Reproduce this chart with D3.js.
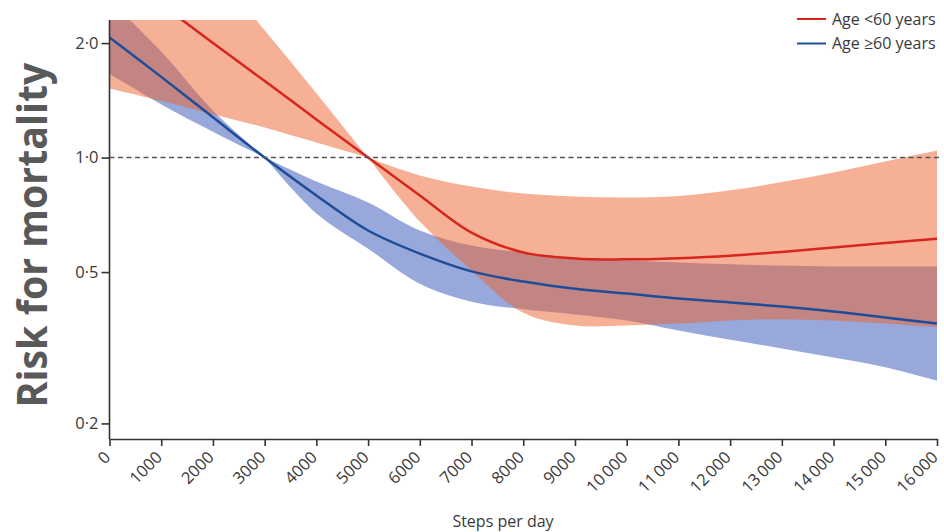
<!DOCTYPE html>
<html>
<head>
<meta charset="utf-8">
<script src="https://cdn.jsdelivr.net/npm/d3@7"></script>
<style>
  html, body { margin: 0; padding: 0; background: #fff; }
  svg { display: block; font-family: "Open Sans", "DejaVu Sans", sans-serif; }
</style>
</head>
<body>
<svg id="chart" width="944" height="532"></svg>
<script>
// Steps per day at which the curves are sampled
const steps = [0, 1000, 2000, 3000, 4000, 5000, 6000, 7000, 8000, 9000, 10000, 11000, 12000, 13000, 14000, 15000, 16000];

// Age <60 years: hazard ratio and 95% CI (reference point 5000 steps)
const youngHR    = [3.20, 2.53, 2.00, 1.59, 1.26, 1.00, 0.795, 0.635, 0.563, 0.543, 0.540, 0.544, 0.552, 0.565, 0.580, 0.596, 0.612];
const youngUpper = [6.86, 4.67, 3.18, 2.16, 1.477, 1.00, 0.897, 0.839, 0.804, 0.790, 0.785, 0.792, 0.820, 0.862, 0.913, 0.976, 1.043];
const youngLower = [1.52, 1.41, 1.30, 1.20, 1.095, 1.00, 0.679, 0.505, 0.391, 0.362, 0.362, 0.366, 0.373, 0.376, 0.373, 0.366, 0.358];

// Age >=60 years: hazard ratio and 95% CI (reference point 3000 steps)
const olderHR    = [2.07, 1.63, 1.276, 1.00, 0.795, 0.643, 0.559, 0.502, 0.472, 0.452, 0.439, 0.426, 0.416, 0.406, 0.394, 0.380, 0.366];
const olderUpper = [2.59, 1.90, 1.33, 1.00, 0.865, 0.762, 0.643, 0.587, 0.563, 0.546, 0.536, 0.530, 0.524, 0.520, 0.517, 0.517, 0.517];
const olderLower = [1.66, 1.38, 1.17, 1.00, 0.713, 0.576, 0.466, 0.418, 0.399, 0.387, 0.373, 0.351, 0.332, 0.315, 0.298, 0.281, 0.259];

const youngRefIndex = 5;   // 5000 steps
const olderRefIndex = 3;   // 3000 steps

const xTicks = d3.range(0, 16001, 1000);
const yTicks = [0.2, 0.5, 1.0, 2.0];
const legendLabels = ["Age <60 years", "Age \u226560 years"];

const svg = d3.select("#chart");

const x = d3.scaleLinear().domain([0, 16000]).range([109.5, 937]);
const y = d3.scaleLog().domain([0.182, 2.30]).range([439, 20]);

svg.append("defs").append("clipPath").attr("id", "plot-clip")
  .append("rect")
  .attr("x", x(0)).attr("y", y(2.30))
  .attr("width", x(16000) - x(0)).attr("height", y(0.182) - y(2.30));

const plot = svg.append("g").attr("clip-path", "url(#plot-clip)");

const smooth = d3.curveCatmullRom.alpha(0.5);

// Band drawn in two pieces so that it pinches sharply at the reference point
const band = (lo, hi, pinch) => [[0, pinch], [pinch, steps.length - 1]].map(([a, b]) =>
  d3.area()
    .x(i => x(steps[i]))
    .y0(i => y(lo[i]))
    .y1(i => y(hi[i]))
    .curve(smooth)(d3.range(a, b + 1)));

const line = vals => d3.line()
  .x((d, i) => x(steps[i]))
  .y((d, i) => y(vals[i]))
  .curve(smooth)(steps);

// Confidence bands: the older group underneath, the younger group translucent on top
band(olderLower, olderUpper, olderRefIndex).forEach(d =>
  plot.append("path").attr("d", d).attr("fill", "#98a8da"));
band(youngLower, youngUpper, youngRefIndex).forEach(d =>
  plot.append("path").attr("d", d).attr("fill", "rgb(237,97,45)").attr("fill-opacity", 0.5));

// Reference line at a hazard ratio of 1
svg.append("line")
  .attr("x1", x(0)).attr("x2", 942)
  .attr("y1", y(1)).attr("y2", y(1))
  .attr("stroke", "#555").attr("stroke-width", 1.5)
  .attr("stroke-dasharray", "5,3.5");

plot.append("path").attr("d", line(youngHR))
  .attr("fill", "none").attr("stroke", "#d7261e").attr("stroke-width", 2.5);
plot.append("path").attr("d", line(olderHR))
  .attr("fill", "none").attr("stroke", "#1d4c98").attr("stroke-width", 2.5);

// Axes
const axisColor = "#333";
const yAxis = svg.append("g")
  .attr("transform", `translate(${x(0)},0)`)
  .call(d3.axisLeft(y).tickValues(yTicks).tickSize(8).tickSizeOuter(0)
    .tickFormat(d => d.toFixed(1).replace(".", "\u00b7")));
yAxis.select(".domain").attr("d", `M0,${y(2.30)}V${y(0.182)}`);

const xAxis = svg.append("g")
  .attr("transform", `translate(0,${y(0.182)})`)
  .call(d3.axisBottom(x).tickValues(xTicks).tickSize(7).tickSizeOuter(0)
    .tickFormat(d => d >= 10000 ? String(d).replace(/(\d{2})(\d{3})$/, "$1\u2009$2") : String(d)));

[yAxis, xAxis].forEach(g => {
  g.selectAll(".domain, .tick line").attr("stroke", axisColor).attr("stroke-width", 1.6);
  g.selectAll("text").attr("fill", "#3a3a3a").style("font-size", "16.5px")
    .style("font-family", "'Open Sans', sans-serif");
});
yAxis.selectAll("text").attr("x", -11);

// Rotated labels whose lower-right corner sits just under each tick
xAxis.selectAll("text")
  .attr("x", 0).attr("y", 0).attr("dy", "0.72em")
  .attr("transform", "translate(-7,11) rotate(-45)")
  .style("text-anchor", "end");

// Axis titles
svg.append("text")
  .attr("x", 503).attr("y", 527)
  .attr("text-anchor", "middle")
  .attr("fill", "#3a3a3a")
  .style("font-size", "16px")
  .text("Steps per day");

svg.append("text")
  .attr("transform", "translate(47,235) rotate(-90)")
  .attr("text-anchor", "middle")
  .attr("fill", "#595959")
  .style("font-size", "42px")
  .style("font-weight", "bold")
  .attr("textLength", 345)
  .attr("lengthAdjust", "spacingAndGlyphs")
  .text("Risk for mortality");

// Legend
const legendColors = ["#d7261e", "#1d4c98"];
const legend = svg.append("g");
legendLabels.forEach((lab, i) => {
  const gy = 19 + i * 24.5;
  legend.append("line")
    .attr("x1", 797).attr("x2", 826).attr("y1", gy).attr("y2", gy)
    .attr("stroke", legendColors[i]).attr("stroke-width", 2);
  legend.append("text")
    .attr("x", 832).attr("y", gy + 5.5)
    .attr("fill", "#3a3a3a")
    .style("font-size", "16px")
    .text(lab);
});
</script>
</body>
</html>
